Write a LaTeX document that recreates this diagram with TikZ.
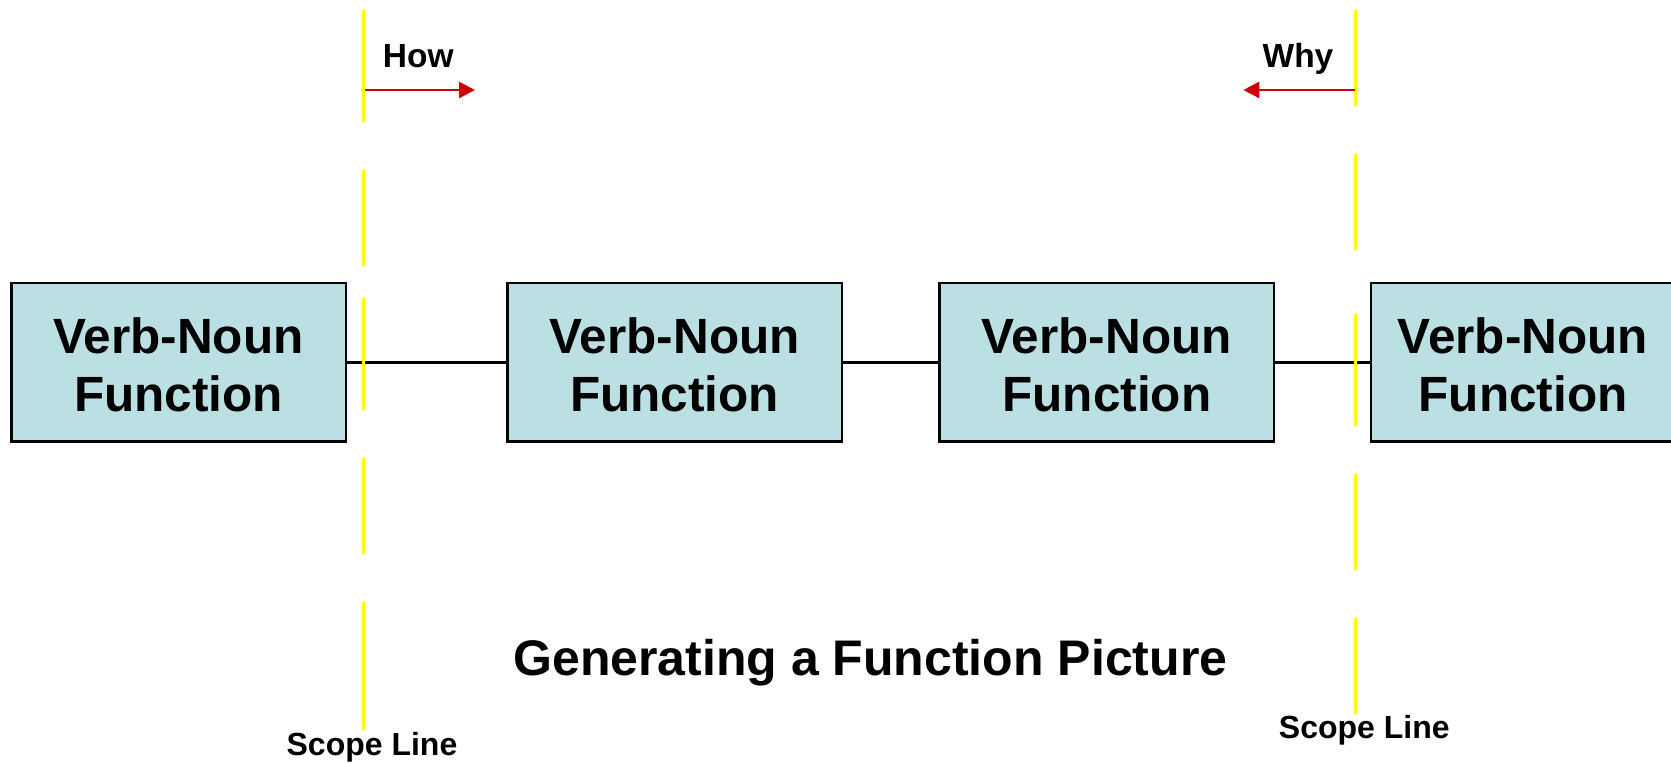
\documentclass[tikz,border=0pt]{standalone}
\usepackage{fontspec}
\setmainfont{Liberation Sans}
\usetikzlibrary{arrows.meta}
\definecolor{boxfill}{RGB}{187,224,227}
\definecolor{scopeyellow}{RGB}{255,255,0}
\definecolor{arrowred}{RGB}{204,0,0}
% two-line function text; the strut pushes the block slightly down
\newcommand{\vnfunc}{\rule{0pt}{21pt}Verb-Noun\\Function}
\begin{document}
\begin{tikzpicture}[x=0.5pt,y=-0.5pt,
  fnbox/.style={draw=black, line width=1.3pt, fill=boxfill,
    minimum width=167.3pt, minimum height=79.3pt, inner sep=0pt,
    align=center, font=\fontsize{24.75pt}{29.1pt}\selectfont\bfseries},
  link/.style={draw=black, line width=1.45pt},
  scopedash/.style={draw=scopeyellow, line width=1.4pt},
  pointer/.style={draw=arrowred, line width=1.3pt,
    -{Triangle[length=8pt,width=8pt]}},
  dirlabel/.style={inner sep=0pt, anchor=base,
    font=\fontsize{16.75pt}{20pt}\selectfont\bfseries},
  scopelabel/.style={inner sep=0pt, anchor=base,
    font=\fontsize{16pt}{19pt}\selectfont\bfseries},
  titlelabel/.style={inner sep=0pt, anchor=base,
    font=\fontsize{25pt}{30pt}\selectfont\bfseries}]
\clip (0,0) rectangle (1671,762);
\useasboundingbox (0,0) rectangle (1671,762);

% function boxes
\node[fnbox] (box1) at (178.5,362.1) {\vnfunc};
\node[fnbox] (box2) at (674.7,362.1) {\vnfunc};
\node[fnbox] (box3) at (1106.8,362.1) {\vnfunc};
\node[fnbox, minimum width=151.9pt] (box4) at (1523,362.1) {\vnfunc};

% connectors between functions
\draw[link] (box1.east) -- (box2.west);
\draw[link] (box2.east) -- (box3.west);
\draw[link] (box3.east) -- (box4.west);

% left scope line
\foreach \ya/\yb in {10/122, 170/266, 298/410, 458/554, 602/730}
  \draw[scopedash] (363.3,\ya) -- (363.3,\yb);
% right scope line
\foreach \ya/\yb in {10/106, 154/250, 314/426, 474/570, 618/714}
  \draw[scopedash] (1355.5,\ya) -- (1355.5,\yb);

% How / Why direction arrows
\coordinate (howstart) at (364.5,90);
\coordinate (howend) at (475,90);
\coordinate (whystart) at (1354.5,90);
\coordinate (whyend) at (1243.3,90);
\draw[pointer] (howstart) -- (howend);
\draw[pointer] (whystart) -- (whyend);
\node[dirlabel] (how) at (418.3,67.7) {How};
\node[dirlabel] (why) at (1298,67.7) {Why};

% labels
\node[scopelabel] (scopeleft) at (372,755) {Scope Line};
\node[scopelabel] (scoperight) at (1364.3,738.3) {Scope Line};
\node[titlelabel] (title) at (870.3,675) {Generating a Function Picture};
\end{tikzpicture}
\end{document}
